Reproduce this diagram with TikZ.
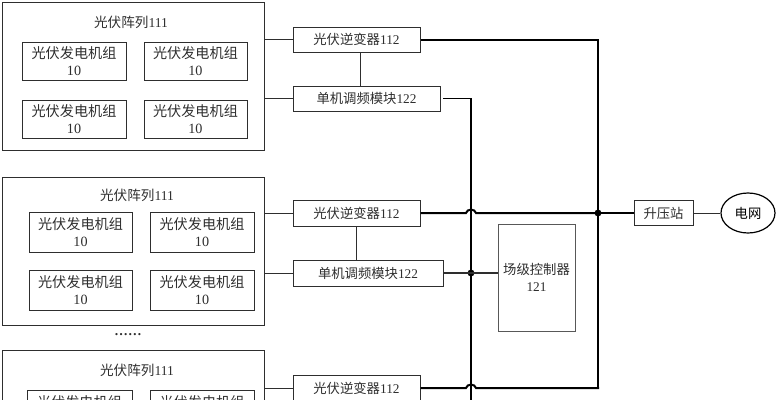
\documentclass[tikz,border=0pt]{standalone}
\usepackage{fontspec}
\setmainfont{Liberation Serif}
\newfontfamily\cjkfam{Noto Sans CJK SC}[Scale=1.0]
\newcommand{\zh}[1]{{\cjkfam #1}}
\usetikzlibrary{shapes.geometric}
\definecolor{ink}{gray}{0.18}
\tikzset{
  pxbox/.style 2 args={draw=ink,line width=0.75pt,align=center,inner sep=0pt,font=\fontsize{10}{12.6}\selectfont,text=ink,
    minimum width=#1*0.75pt,minimum height=#2*0.75pt},
  genbox/.style 2 args={pxbox={#1}{#2},font=\fontsize{10.6}{12.6}\selectfont},
  thinline/.style={draw=ink,line width=0.75pt},
  thickline/.style={draw=black,line width=1.5pt},
  dotnode/.style={circle,fill=black,inner sep=0pt,minimum size=5.2pt},
  plain/.style={inner sep=0pt,font=\fontsize{10.2}{13}\selectfont,text=ink,align=center}
}
\begin{document}
\begin{tikzpicture}[x=0.75pt,y=-0.75pt]
\useasboundingbox (0,0) rectangle (776,400);
\clip (0,0) rectangle (776,400);
% array 1
\node[pxbox={262}{148}] (a1) at (133,76) {};
\node[plain] (t1) at (131,22) {\zh{光伏阵列}111};
\node[genbox={104}{38}] (g11) at (74,61) {\zh{光伏发电机组}\\10};
\node[genbox={103}{38}] (g12) at (195.5,61) {\zh{光伏发电机组}\\10};
\node[genbox={104}{38}] (g13) at (74,119) {\zh{光伏发电机组}\\10};
\node[genbox={103}{38}] (g14) at (195.5,119) {\zh{光伏发电机组}\\10};
% array 2
\node[pxbox={262}{148}] (a2) at (133,251) {};
\node[plain] (t2) at (137,195.5) {\zh{光伏阵列}111};
\node[genbox={103}{40}] (g21) at (80.5,232) {\zh{光伏发电机组}\\10};
\node[genbox={104}{40}] (g22) at (202,232) {\zh{光伏发电机组}\\10};
\node[genbox={103}{40}] (g23) at (80.5,290) {\zh{光伏发电机组}\\10};
\node[genbox={104}{40}] (g24) at (202,290) {\zh{光伏发电机组}\\10};
\node[plain] (dots) at (128,335) {\textbf{……}};
% array 3
\node[pxbox={262}{148}] (a3) at (133,424) {};
\node[plain] (t3) at (137,370) {\zh{光伏阵列}111};
\node[genbox={105}{40}] (g31) at (79.5,410) {\raisebox{13pt}{\zh{光伏发电机组}}};
\node[genbox={104}{40}] (g32) at (202,410) {\raisebox{13pt}{\zh{光伏发电机组}}};
% inverters and modules
\node[pxbox={127}{25}] (i1) at (356.5,39.5) {\zh{光伏逆变器}112};
\node[pxbox={147}{25}] (m1) at (366.5,98.5) {\zh{单机调频模块}122};
\node[pxbox={127}{26}] (i2) at (356.5,213) {\zh{光伏逆变器}112};
\node[pxbox={150}{26}] (m2) at (368,273) {\zh{单机调频模块}122};
\node[pxbox={127}{25}] (i3) at (356.5,388) {\zh{光伏逆变器}112};
\node[pxbox={77}{107},draw=ink!80] (c) at (536.5,277.5) {\zh{场级控制器}\\121};
\node[pxbox={59}{25}] (s) at (663.5,213) {\zh{升压站}};
\node[ellipse,draw=black,line width=0.9pt,minimum width=54*0.75pt,minimum height=40*0.75pt,inner sep=0pt,font=\fontsize{10}{12}\selectfont] (grid) at (748,213) {\zh{电网}};
% thin connections
\draw[thinline] (a1.east |- i1) -- (i1.west);
\draw[thinline] (a1.east |- m1) -- (m1.west);
\draw[thinline] (a2.east |- i2) -- (i2.west);
\draw[thinline] (a2.east |- m2) -- (m2.west);
\draw[thinline] (a3.east |- i3) -- (i3.west);
\draw[thinline] (i1.south -| 360,0) -- (m1.north -| 360,0);
\draw[thinline] (i2.south -| 356,0) -- (m2.north -| 356,0);
\draw[thinline] (s.east) -- (grid.west);
% junctions
\coordinate (m1out) at (443,98.5);
\coordinate (busA) at (471,98.5);
\coordinate (busAend) at (471,400);
\coordinate (busB) at (598,39.5);
\coordinate (busBend) at (598,388);
\node[dotnode] (j1) at (471,273) {};
\node[dotnode] (j2) at (598,213) {};
% control bus
\draw[thickline,line width=1.1pt] (m1out) -- (busA) -- (busAend);
\draw[thinline,line width=1pt] (m2.east) -- (j1.center) -- (c.west |- j1);
% power bus
\draw[thickline,line join=miter] (i1.east) -- (busB) -- (busBend);
\draw[thickline] (i2.east) -- (466,213) .. controls (467,208.5) and (475,208.5) .. (476,213) -- (j2.center);
\draw[thickline,line join=miter] (i3.east) -- (466,388) .. controls (467,383.5) and (475,383.5) .. (476,388) -- (busBend) -- (598,387);
\draw[thickline] (j2.center) -- (s.west);
\end{tikzpicture}
\end{document}
